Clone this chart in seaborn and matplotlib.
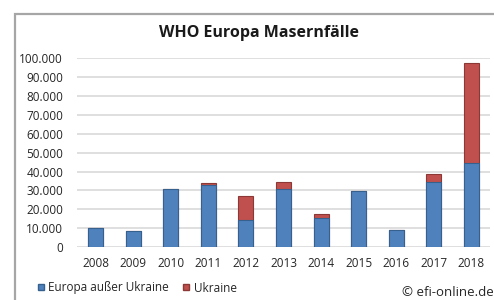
import matplotlib
matplotlib.use("Agg")
import matplotlib.pyplot as plt
import seaborn as sns
import pandas as pd
from matplotlib.patches import Rectangle
from matplotlib.lines import Line2D
from matplotlib.ticker import FuncFormatter

years = ["2008", "2009", "2010", "2011", "2012", "2013", "2014", "2015", "2016", "2017", "2018"]
europa_ohne_ukraine = [10300, 8700, 31000, 32600, 14500, 31000, 15400, 29800, 8900, 34200, 44500]
ukraine = [0, 0, 0, 1200, 12300, 3400, 2300, 0, 0, 4700, 52900]
series_labels = ["Europa außer Ukraine", "Ukraine"]
title = "WHO Europa Masernfälle"
credit = "© efi-online.de"

sns.set_theme(style="white")
plt.rcParams["font.family"] = ["Open Sans", "DejaVu Sans"]

df = pd.DataFrame({"Jahr": years, "blau": europa_ohne_ukraine, "rot": ukraine})
df["gesamt"] = df["blau"] + df["rot"]

blue = "#4F81BD"
red = "#C0504D"

fig = plt.figure(figsize=(4.94, 3.0), dpi=100)
ax = fig.add_axes([77/494, 1-247/300, (490-77)/494, (247-58.3)/300])

sns.barplot(data=df, x="Jahr", y="gesamt", color=red, width=0.4, ax=ax,
            edgecolor="#8C3836", linewidth=0.8, saturation=1)
sns.barplot(data=df, x="Jahr", y="blau", color=blue, width=0.4, ax=ax,
            edgecolor="#36618F", linewidth=0.8, saturation=1)

ax.set_ylim(0, 100000)
ax.set_xlim(-0.5, len(years) - 0.5)
ax.set_yticks(range(0, 100001, 10000))
ax.yaxis.set_major_formatter(FuncFormatter(lambda v, p: f"{int(v):,}".replace(",", ".")))
ax.yaxis.grid(True, color="#D6D6D6", linewidth=1.1)
ax.set_axisbelow(True)
for s in ax.spines.values():
    s.set_visible(False)
ax.set_xlabel("")
ax.set_ylabel("")
ax.tick_params(axis="both", length=0, labelsize=8.5, colors="#262626")
ax.tick_params(axis="y", pad=10)
ax.tick_params(axis="x", pad=7)

fig.add_artist(Rectangle((15/494, -0.05), 1.2, 1 - 14/300 + 0.05, transform=fig.transFigure,
                         fill=False, edgecolor="#A6A6A6", linewidth=1.6))

fig.text(259/494, 1 - 33/300, title, ha="center", va="center", fontsize=11.5,
         fontweight="bold", color="#1a1a1a")

handles = [Line2D([0], [0], marker="s", linestyle="", markersize=5, markerfacecolor=blue,
                  markeredgecolor="#36618F"),
           Line2D([0], [0], marker="s", linestyle="", markersize=5, markerfacecolor=red,
                  markeredgecolor="#8C3836")]
fig.legend(handles, series_labels, loc="center left", bbox_to_anchor=(35/494, 1 - 288/300),
           ncol=2, frameon=False, fontsize=8.5, handletextpad=0.1, columnspacing=1.0,
           handlelength=1.0, borderaxespad=0, borderpad=0)

fig.text(1.0, 1 - 293/300, credit, ha="right", va="center", fontsize=9.5, color="#262626")

fig.savefig("out.png", dpi=100)
